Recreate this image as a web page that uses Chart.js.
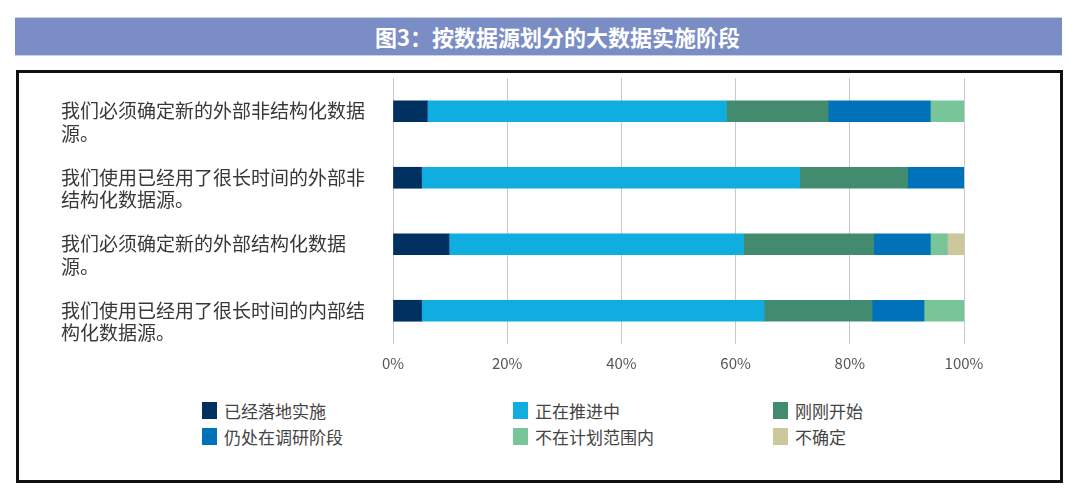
<!DOCTYPE html>
<html>
<head>
<meta charset="utf-8">
<script src="https://cdn.jsdelivr.net/npm/chart.js@4/dist/chart.umd.min.js"></script>
<style>
  html, body { margin: 0; padding: 0; background: #fff; }
  body { width: 1080px; height: 498px; position: relative; overflow: hidden;
         font-family: "Noto Sans CJK SC", "Noto Sans", sans-serif; }
  #title { position: absolute; left: 15px; top: 17px; width: 1009px; height: 37px; padding-left: 38px;
           background: #7a8dc5; border-top: 1px solid #c9d1ea; border-bottom: 1px solid #c9d1ea;
           color: #fff; font-weight: bold; font-size: 22px; line-height: 37px; text-align: center; }
  #box { position: absolute; left: 16px; top: 70px; width: 1041px; height: 407px;
         border: 3px solid #111; }
  #wrap { position: absolute; left: 0; top: 70px; width: 1000px; height: 310px; }
  #legend { position: absolute; left: 202px; top: 398px; width: 800px; }
  .lg-item { position: absolute; display: flex; align-items: center; font-size: 17px; color: #444; white-space: nowrap; }
  .lg-box { width: 15px; height: 17px; margin-right: 7px; }
</style>
</head>
<body>
<div id="title">图3：按数据源划分的大数据实施阶段</div>
<div id="box"></div>
<div id="wrap"><canvas id="chart"></canvas></div>
<div id="legend"></div>
<script>
'use strict';

// categories (each label split into the two lines used in the picture)
const categories = [
  ['我们必须确定新的外部非结构化数据', '源。'],
  ['我们使用已经用了很长时间的外部非', '结构化数据源。'],
  ['我们必须确定新的外部结构化数据', '源。'],
  ['我们使用已经用了很长时间的内部结', '构化数据源。']
];

const seriesNames = ['已经落地实施', '正在推进中', '刚刚开始', '仍处在调研阶段', '不在计划范围内', '不确定'];
const seriesColors = ['#00305f', '#10aee0', '#438b6f', '#0072ba', '#78c59a', '#cdc79c'];

// percent per category, one array per stage
const landed     = [6.0, 5.0, 9.8, 5.0];
const inProgress = [52.4, 66.2, 51.6, 60.0];
const justStart  = [17.8, 18.9, 22.8, 18.9];
const research   = [17.9, 9.9, 9.9, 9.1];
const notPlanned = [5.9, 0, 3.0, 7.0];
const unsure     = [0, 0, 2.9, 0];

const xTicks = [0, 20, 40, 60, 80, 100];

const seriesData = [landed, inProgress, justStart, research, notPlanned, unsure];

const chart = new Chart(document.getElementById('chart'), {
  type: 'bar',
  data: {
    labels: categories,
    datasets: seriesNames.map((name, i) => ({
      label: name,
      data: seriesData[i],
      backgroundColor: seriesColors[i],
      borderWidth: 0,
      barThickness: 21
    }))
  },
  options: {
    indexAxis: 'y',
    responsive: true,
    maintainAspectRatio: false,
    animation: false,
    layout: { padding: { left: 61, right: 36, top: 8, bottom: 0 } },
    plugins: { legend: { display: false }, tooltip: { enabled: false } },
    scales: {
      x: {
        stacked: true,
        min: xTicks[0],
        max: xTicks[xTicks.length - 1],
        afterBuildTicks: axis => { axis.ticks = xTicks.map(v => ({ value: v })); },
        afterFit: axis => { axis.height = 36; },
        grid: { color: '#c8c8c8', lineWidth: 1, drawTicks: false },
        border: { display: false },
        ticks: {
          padding: 10,
          color: '#555',
          font: { family: '"Noto Sans CJK SC", "Noto Sans", sans-serif', size: 15 },
          callback: v => v + '%'
        }
      },
      y: {
        stacked: true,
        afterFit: axis => { axis.width = 332; axis.paddingTop = 0; axis.paddingBottom = 0; },
        grid: { display: false },
        border: { display: false },
        ticks: {
          crossAlign: 'far',
          labelOffset: 11,
          color: '#383838',
          font: { family: '"Noto Sans CJK SC", "Noto Sans", sans-serif', size: 19, lineHeight: 1.2 }
        }
      }
    }
  }
});

// legend in three columns, two rows
const legend = document.getElementById('legend');
const colX = [0, 311, 571];
seriesNames.forEach((name, i) => {
  const el = document.createElement('div');
  el.className = 'lg-item';
  el.style.left = colX[i % 3] + 'px';
  el.style.top = (Math.floor(i / 3) * 26) + 'px';
  el.innerHTML = `<span class="lg-box" style="background:${seriesColors[i]}"></span>${name}`;
  legend.appendChild(el);
});
</script>
</body>
</html>
